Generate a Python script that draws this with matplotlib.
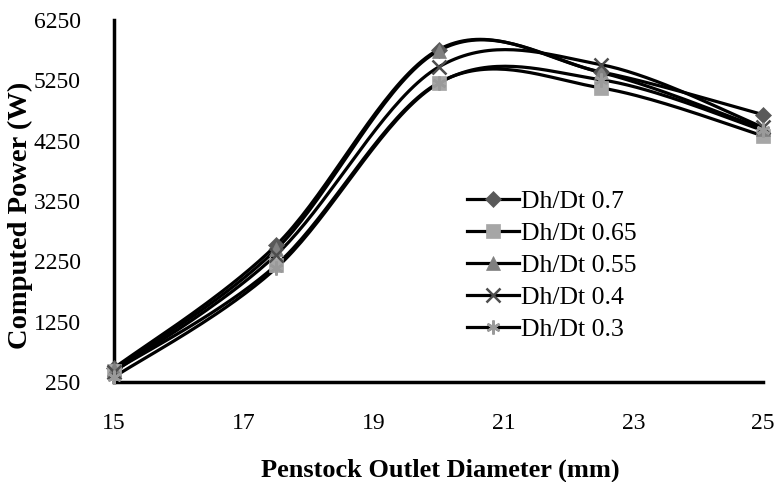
import matplotlib
matplotlib.use("Agg")
import matplotlib.pyplot as plt
import numpy as np

plt.rcParams["font.family"] = ["Liberation Serif", "DejaVu Serif"]

diameter = [15, 17.5, 20, 22.5, 25]
labels = ["Dh/Dt 0.7", "Dh/Dt 0.65", "Dh/Dt 0.55", "Dh/Dt 0.4", "Dh/Dt 0.3"]
power_07 = [480, 2520, 5760, 5390, 4680]
power_065 = [430, 2190, 5210, 5125, 4330]
power_055 = [460, 2450, 5740, 5380, 4440]
power_04 = [420, 2360, 5470, 5510, 4470]
power_03 = [330, 2140, 5200, 5260, 4420]

series = [power_07, power_065, power_055, power_04, power_03]
markers = ["D", "s", "^", "x", (6, 2, 0)]
mcolors = ["#595959", "#a6a6a6", "#808080", "#4d4d4d", "#9a9a9a"]
msizes = [8, 9.5, 9.5, 9.5, 10]


def smooth(x, y, n=40):
    # catmull-rom like excel's smoothed line
    x = np.asarray(x, float)
    y = np.asarray(y, float)
    px = np.concatenate([[x[0]], x, [x[-1]]])
    py = np.concatenate([[y[0]], y, [y[-1]]])
    xs, ys = [], []
    for i in range(1, len(px) - 2):
        p0x, p1x, p2x, p3x = px[i - 1], px[i], px[i + 1], px[i + 2]
        p0y, p1y, p2y, p3y = py[i - 1], py[i], py[i + 1], py[i + 2]
        c1x, c1y = p1x + (p2x - p0x) / 6, p1y + (p2y - p0y) / 6
        c2x, c2y = p2x - (p3x - p1x) / 6, p2y - (p3y - p1y) / 6
        t = np.linspace(0, 1, n)
        b0, b1, b2, b3 = (1 - t) ** 3, 3 * t * (1 - t) ** 2, 3 * t ** 2 * (1 - t), t ** 3
        xs.append(b0 * p1x + b1 * c1x + b2 * c2x + b3 * p2x)
        ys.append(b0 * p1y + b1 * c1y + b2 * c2y + b3 * p2y)
    return np.concatenate(xs), np.concatenate(ys)


fig = plt.figure(figsize=(7.78, 4.82), dpi=100)
ax = fig.add_axes([0.1465, 0.2075, 0.8345, 0.751])

for vals, lab, m, mc, ms in zip(series, labels, markers, mcolors, msizes):
    mew = 1.8 if m in ("x", (6, 2, 0)) else 0.5
    sx, sy = smooth(diameter, vals)
    ax.plot(sx, sy, color="black", lw=2.3, clip_on=False, zorder=2)
    ax.plot(diameter, vals, linestyle="none", marker=m, color=mc, markersize=ms,
            markeredgewidth=mew, clip_on=False, zorder=3)
    ax.plot([], [], color="black", lw=2.3, marker=m, markerfacecolor=mc,
            markeredgecolor=mc, markersize=ms, markeredgewidth=mew, label=lab)

ax.set_xlim(15, 25)
ax.set_ylim(250, 6250)
ax.set_xticks([15, 17, 19, 21, 23, 25])
ax.set_yticks([250, 1250, 2250, 3250, 4250, 5250, 6250])
ax.tick_params(axis="x", length=0, labelsize=17, pad=22)
ax.tick_params(axis="y", length=0, labelsize=17, pad=24)
for s in ["top", "right"]:
    ax.spines[s].set_visible(False)
for s in ["left", "bottom"]:
    ax.spines[s].set_linewidth(2.5)

# axis titles placed by hand like the excel chart
fig.text(0.5656, 0.025, "Penstock Outlet Diameter (mm)", fontsize=19, fontweight="bold",
         ha="center", va="center")
fig.text(0.026, 0.553, "Computed Power (W)", fontsize=20.5, fontweight="bold",
         ha="center", va="center", rotation=90)

ax.legend(loc="upper left", bbox_to_anchor=(0.544, 0.53), frameon=False, fontsize=18.5,
          handlelength=2.0, handletextpad=0.1, labelspacing=0.35, borderaxespad=0,
          borderpad=0)

fig.savefig("out.png", dpi=100)
